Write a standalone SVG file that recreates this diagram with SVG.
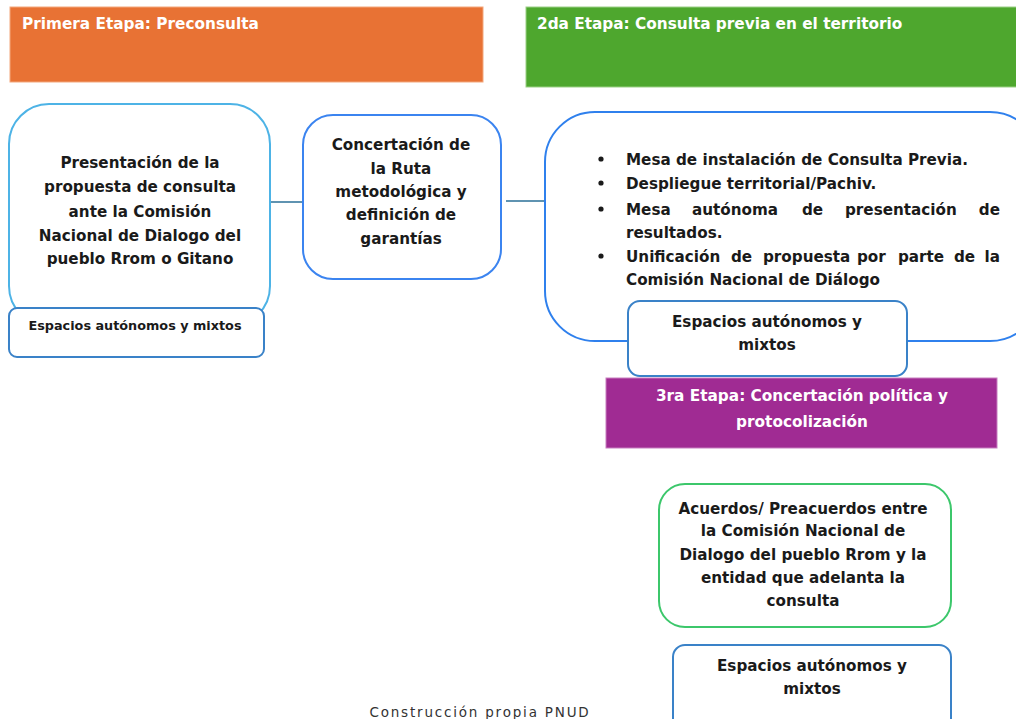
<svg xmlns="http://www.w3.org/2000/svg" width="1016" height="719" viewBox="0 0 1016 719">
<style>
.hdr{font-family:"DejaVu Sans",Verdana,sans-serif;font-weight:bold;font-size:15.3px;fill:#ffffff}
.t{font-family:"DejaVu Sans",Verdana,sans-serif;font-weight:bold;font-size:15.2px;fill:#1a1a1a}
.ts{font-family:"DejaVu Sans",Verdana,sans-serif;font-weight:bold;font-size:12.8px;fill:#1a1a1a}
.box{fill:#ffffff;stroke-width:2}
.esp{fill:#ffffff;stroke:#3A82C8;stroke-width:2}
.conn{stroke:#2A6F97;stroke-width:1.6;fill:none}
</style>
<rect width="1016" height="719" fill="#ffffff"/>
<g id="stage1">
<rect x="10" y="7" width="473" height="75" fill="#E87234" stroke="#F3A77C" stroke-width="1"/>
<text class="hdr" x="22" y="29">Primera Etapa: Preconsulta</text>
</g>
<g id="stage2">
<rect x="526" y="7" width="495" height="80" fill="#4EA72E" stroke="#9BD085" stroke-width="1"/>
<text class="hdr" x="537" y="29">2da Etapa: Consulta previa en el territorio</text>
</g>
<g id="connectors">
<line class="conn" x1="270" y1="202" x2="304" y2="202"/>
<line class="conn" x1="506" y1="201" x2="544" y2="201"/>
</g>
<g id="presentacion">
<rect class="box" x="9" y="104" width="261" height="222" rx="40" stroke="#4DB3E6"/>
<text class="t" text-anchor="middle" x="140"><tspan x="140" y="168">Presentación de la</tspan><tspan x="140" y="192">propuesta de consulta</tspan><tspan x="140" y="217">ante la Comisión</tspan><tspan x="140" y="241">Nacional de Dialogo del</tspan><tspan x="140" y="264">pueblo Rrom o Gitano</tspan></text>
</g>
<g id="espacios1">
<rect class="esp" x="9" y="308" width="255" height="49" rx="8"/>
<text class="ts" x="135" y="330" text-anchor="middle">Espacios autónomos y mixtos</text>
</g>
<g id="concertacion">
<rect class="box" x="303" y="115" width="198" height="164" rx="30" stroke="#3B84F0"/>
<text class="t" text-anchor="middle"><tspan x="401" y="150">Concertación de</tspan><tspan x="401" y="174">la Ruta</tspan><tspan x="401" y="197">metodológica y</tspan><tspan x="401" y="220">definición de</tspan><tspan x="401" y="244">garantías</tspan></text>
</g>
<g id="consulta">
<rect class="box" x="545" y="112" width="495" height="229" rx="50" stroke="#2F80ED"/>
<circle cx="601" cy="159" r="2.6" fill="#1a1a1a"/>
<circle cx="601" cy="183" r="2.6" fill="#1a1a1a"/>
<circle cx="601" cy="209" r="2.6" fill="#1a1a1a"/>
<circle cx="601" cy="256" r="2.6" fill="#1a1a1a"/>
<text class="t" x="626" y="165">Mesa de instalación de Consulta Previa.</text>
<text class="t" x="626" y="189">Despliegue territorial/Pachiv.</text>
<text class="t" y="215"><tspan x="626">Mesa</tspan><tspan x="692">autónoma</tspan><tspan x="802">de</tspan><tspan x="845">presentación</tspan><tspan x="1000" text-anchor="end">de</tspan></text>
<text class="t" x="626" y="238">resultados.</text>
<text class="t" y="262"><tspan x="626">Unificación</tspan><tspan x="731">de</tspan><tspan x="763">propuesta</tspan><tspan x="857">por</tspan><tspan x="898">parte</tspan><tspan x="954">de</tspan><tspan x="1000" text-anchor="end">la</tspan></text>
<text class="t" x="626" y="285">Comisión Nacional de Diálogo</text>
</g>
<g id="espacios2">
<rect class="esp" x="628" y="301" width="279" height="75" rx="12"/>
<text class="t" text-anchor="middle"><tspan x="767" y="327">Espacios autónomos y</tspan><tspan x="767" y="350">mixtos</tspan></text>
</g>
<g id="stage3">
<rect x="606" y="378" width="391" height="70" fill="#A02B93" stroke="#C77FBF" stroke-width="1"/>
<text class="hdr" text-anchor="middle"><tspan x="802" y="401">3ra Etapa: Concertación política y</tspan><tspan x="802" y="427">protocolización</tspan></text>
</g>
<g id="acuerdos">
<rect class="box" x="659" y="484" width="292" height="143" rx="26" stroke="#3CC76B"/>
<text class="t" text-anchor="middle"><tspan x="803" y="514">Acuerdos/ Preacuerdos entre</tspan><tspan x="803" y="536">la Comisión Nacional de</tspan><tspan x="803" y="560">Dialogo del pueblo Rrom y la</tspan><tspan x="803" y="583">entidad que adelanta la</tspan><tspan x="803" y="606">consulta</tspan></text>
</g>
<g id="espacios3">
<rect class="esp" x="673" y="645" width="278" height="85" rx="12"/>
<text class="t" text-anchor="middle"><tspan x="812" y="671">Espacios autónomos y</tspan><tspan x="812" y="694">mixtos</tspan></text>
</g>
<text x="480" y="717" text-anchor="middle" font-family="DejaVu Sans, Verdana, sans-serif" font-size="13.5" letter-spacing="1.8" fill="#333333">Construcción propia PNUD</text>
</svg>
